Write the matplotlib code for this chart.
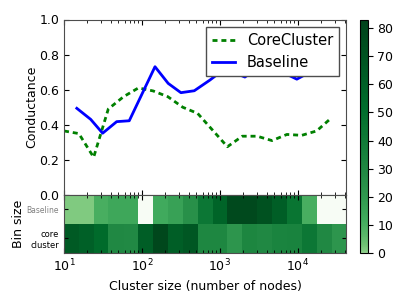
import numpy as np
import matplotlib
matplotlib.use("Agg")
import matplotlib.pyplot as plt
from matplotlib.colors import ListedColormap, Normalize

# bin edges (cluster size)
bin_edges = [10, 15.5, 24, 37, 58, 90, 139, 215, 334, 518, 804, 1247,
             1935, 3003, 4660, 7230, 11220, 17410, 27020, 41930]

# CoreCluster conductance, at bin starts
core_x = bin_edges[:-1]
core_y = [0.365, 0.35, 0.215, 0.49, 0.56, 0.61, 0.593, 0.56, 0.50, 0.465,
          0.37, 0.275, 0.335, 0.335, 0.31, 0.345, 0.34, 0.365, 0.44]

# Baseline conductance
base_x = [14.6, 22.0, 31.3, 47.4, 68.7, 147, 217, 316, 469, 745,
          1160, 2090, 3260, 5070, 9700, 14260]
base_y = [0.494, 0.431, 0.352, 0.418, 0.423, 0.731, 0.636, 0.583, 0.594, 0.655,
          0.72, 0.672, 0.73, 0.72, 0.66, 0.70]

# number of clusters per bin
base_counts = [1, 1, 10, 13, 13, 0, 12, 16, 25, 43, 58, 78, 78, 72, 62, 45, 10, 0, 0]
core_counts = [65, 60, 53, 30, 29, 62, 80, 62, 67, 31, 31, 22, 32, 30, 33, 34, 43, 30, 22]
row_labels = ["core\ncluster", "Baseline"]

plt.rcParams["font.family"] = "DejaVu Sans"
plt.rcParams["font.size"] = 9

fig = plt.figure(figsize=(4, 3), dpi=100)
ax = fig.add_axes([0.16, 0.35, 0.706, 0.585])
axh = fig.add_axes([0.16, 0.157, 0.706, 0.193], sharex=ax)
cax = fig.add_axes([0.90, 0.157, 0.019, 0.777])

ax.plot(core_x, core_y, color="green", lw=2, ls="--", dashes=(1.8, 1.4),
        label="CoreCluster")
ax.plot(base_x, base_y, color="blue", lw=2, label="Baseline")
ax.set_xscale("log")
ax.set_xlim(bin_edges[0], bin_edges[-1])
ax.set_ylim(0, 1)
ax.set_yticks([0.0, 0.2, 0.4, 0.6, 0.8, 1.0])
ax.set_ylabel("Conductance", labelpad=1)
ax.tick_params(labelbottom=False)
ax.legend(loc="upper right", fontsize=10.5, fancybox=False, edgecolor="0.3",
          framealpha=1, handlelength=1.6)

# light-to-dark greens, steeper change at low counts
cmap = ListedColormap(plt.cm.Greens(0.4 + 0.6 * np.sqrt(np.linspace(0, 1, 256))))
cmap.set_bad("#f7fcf5")
counts = np.ma.masked_equal(np.array([core_counts, base_counts], dtype=float), 0)
norm = Normalize(vmin=0, vmax=83)
mesh = axh.pcolormesh(bin_edges, [0, 1, 2], counts, cmap=cmap, norm=norm)
axh.set_ylim(0, 2)
axh.set_yticks([0.5, 1.5])
axh.set_yticklabels(row_labels)
ylabs = axh.get_yticklabels()
ylabs[0].set_fontsize(6)
ylabs[1].set_fontsize(5.5)
ylabs[1].set_color("gray")
axh.set_ylabel("Bin size", labelpad=1.5)
axh.set_xlabel("Cluster size (number of nodes)")

for a in (ax, axh):
    a.tick_params(which="both", direction="in", top=True, right=True)
    for s in a.spines.values():
        s.set_color("0.3")
axh.tick_params(axis="y", length=3)

cb = fig.colorbar(mesh, cax=cax, ticks=range(0, 81, 10))
cb.ax.tick_params(labelsize=9)
cb.outline.set_edgecolor("black")

fig.savefig("out.png", dpi=100)
